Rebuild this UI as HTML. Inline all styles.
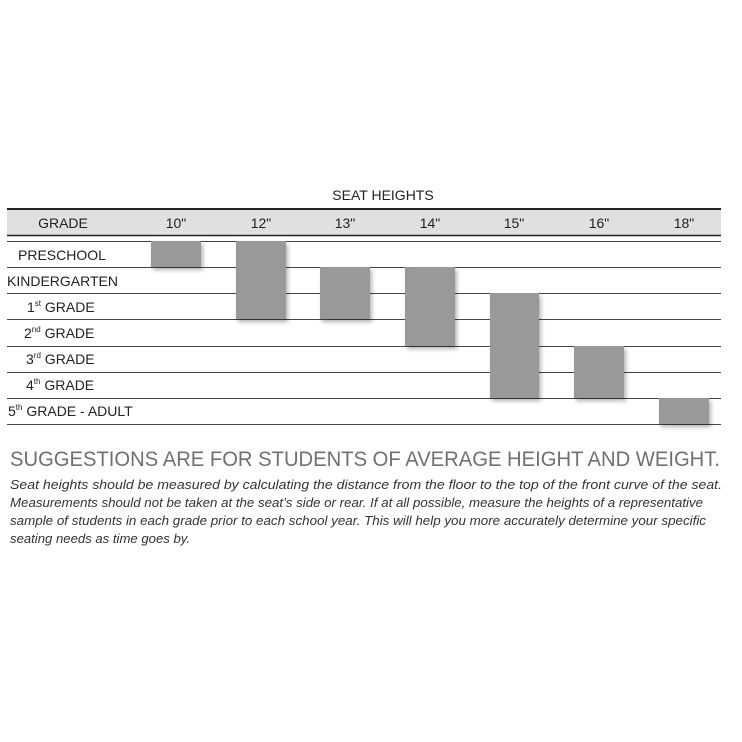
<!DOCTYPE html>
<html><head><style>
html,body{margin:0;padding:0;background:#fff;}
svg{display:block;}
text{font-family:"Liberation Sans",sans-serif;}
</style></head><body>
<svg width="742" height="742" viewBox="0 0 742 742" xmlns="http://www.w3.org/2000/svg">
<defs>
<filter id="sh" x="-20%" y="-20%" width="150%" height="150%"><feDropShadow dx="2" dy="3" stdDeviation="2" flood-color="#000" flood-opacity="0.3"/></filter>
</defs>
<rect x="0" y="0" width="742" height="742" fill="#fff"/>
<text x="383" y="200" font-size="14" text-anchor="middle" fill="#222">SEAT HEIGHTS</text>
<rect x="7" y="209" width="714" height="26" fill="#e0e0e0"/>
<line x1="7" y1="209" x2="721" y2="209" stroke="#222" stroke-width="2"/>
<line x1="7" y1="235.5" x2="721" y2="235.5" stroke="#222" stroke-width="1.5"/>
<g stroke="#444" stroke-width="1">
<line x1="7" y1="241.5" x2="721" y2="241.5"/>
<line x1="7" y1="267.5" x2="721" y2="267.5"/>
<line x1="7" y1="293.5" x2="721" y2="293.5"/>
<line x1="7" y1="319.5" x2="721" y2="319.5"/>
<line x1="7" y1="346.5" x2="721" y2="346.5"/>
<line x1="7" y1="372.5" x2="721" y2="372.5"/>
<line x1="7" y1="398.5" x2="721" y2="398.5"/>
<line x1="7" y1="424.5" x2="721" y2="424.5"/>
</g>
<g font-size="14" fill="#222" text-anchor="middle">
<text x="63" y="228">GRADE</text>
<text x="176" y="228">10"</text>
<text x="261" y="228">12"</text>
<text x="345" y="228">13"</text>
<text x="430" y="228">14"</text>
<text x="514" y="228">15"</text>
<text x="599" y="228">16"</text>
<text x="684" y="228">18"</text>
</g>
<g fill="#999" filter="url(#sh)">
<rect x="151" y="241" width="50" height="26"/>
<rect x="236" y="241" width="50" height="78"/>
<rect x="320" y="267" width="50" height="52"/>
<rect x="405" y="267" width="50" height="79"/>
<rect x="490" y="293" width="49" height="105"/>
<rect x="574" y="346" width="50" height="52"/>
<rect x="659" y="398" width="50" height="26"/>
</g>
<g font-size="14" fill="#222">
<text x="18" y="260">PRESCHOOL</text>
<text x="7" y="286">KINDERGARTEN</text>
<text x="27" y="312">1<tspan font-size="8" dy="-6">st</tspan><tspan dy="6"> GRADE</tspan></text>
<text x="24" y="338">2<tspan font-size="8" dy="-6">nd</tspan><tspan dy="6"> GRADE</tspan></text>
<text x="26" y="364">3<tspan font-size="8" dy="-6">rd</tspan><tspan dy="6"> GRADE</tspan></text>
<text x="26" y="390">4<tspan font-size="8" dy="-6">th</tspan><tspan dy="6"> GRADE</tspan></text>
<text x="8" y="416">5<tspan font-size="8" dy="-6">th</tspan><tspan dy="6"> GRADE - ADULT</tspan></text>
</g>
<text x="10" y="466" font-size="21" fill="#707070" textLength="710" lengthAdjust="spacingAndGlyphs">SUGGESTIONS ARE FOR STUDENTS OF AVERAGE HEIGHT AND WEIGHT.</text>
<g font-size="13" font-style="italic" fill="#333">
<text x="10" y="489" textLength="712" lengthAdjust="spacingAndGlyphs">Seat heights should be measured by calculating the distance from the floor to the top of the front curve of the seat.</text>
<text x="10" y="507" textLength="693" lengthAdjust="spacingAndGlyphs">Measurements should not be taken at the seat’s side or rear.  If at all possible, measure the heights of a representative</text>
<text x="10" y="525" textLength="696" lengthAdjust="spacingAndGlyphs">sample of students in each grade prior to each school year.  This will help you more accurately determine your specific</text>
<text x="10" y="543" textLength="180" lengthAdjust="spacingAndGlyphs">seating needs as time goes by.</text>
</g>
</svg>
</body></html>
